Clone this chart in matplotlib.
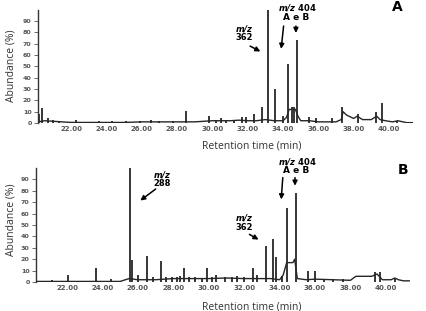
import matplotlib
matplotlib.use("Agg")
import matplotlib.pyplot as plt
import numpy as np

# ---- panel A : peak apexes (min, %) ----
peak_t_A = [20.20, 20.37, 20.7, 21.0, 21.3, 22.3, 23.6, 24.3, 25.1, 25.9, 26.5, 27.0,
            27.8, 28.5, 29.8, 30.2, 30.5, 30.8, 31.2, 31.7, 31.9, 32.35, 32.8, 33.15,
            33.55, 34.0, 34.28, 34.5, 34.62, 34.8, 35.47, 35.87, 36.8, 37.35, 38.25,
            39.27, 39.6, 40.45]
peak_h_A = [8, 13, 4, 2.5, 2, 3, 2, 1.5, 1.5, 2, 3, 2,
            2, 11, 6, 3, 4, 3, 3, 5, 5, 8, 14, 100,
            30, 6, 52, 14, 14, 73, 5, 4, 4, 14, 8,
            10, 18, 2]
# baseline of trace A
base_t_A = [20.13, 20.5, 21.0, 21.5, 22.0, 23.0, 24.0, 25.0, 26.0, 27.0, 28.0, 29.0,
            30.0, 31.0, 31.5, 32.0, 32.5, 33.0, 33.5, 34.0, 34.2, 34.35, 34.7, 34.85,
            35.0, 35.5, 36.0, 37.0, 37.3, 37.4, 37.6, 38.0, 38.2, 38.5, 39.0, 39.3,
            39.5, 39.8, 40.2, 40.5, 41.0, 41.36]
base_y_A = [1, 2, 1.5, 1, 0.5, 0.5, 0.5, 0.5, 1, 1, 1, 1,
            2, 2, 2.5, 2, 2, 3, 2, 2, 5, 12, 12, 6,
            2, 2, 1, 1, 3, 10, 7, 4, 6, 3, 3, 6,
            3, 2, 1, 2, 0.3, 0.3]

# ---- panel B ----
peak_t_B = [21.15, 22.05, 23.65, 24.5, 25.55, 25.65, 26.0, 26.5, 26.85, 27.3, 27.6,
            27.9, 28.2, 28.4, 28.6, 28.9, 29.2, 29.6, 29.9, 30.2, 30.4, 30.9, 31.3,
            31.6, 32.0, 32.5, 32.75, 33.25, 33.65, 33.8, 34.15, 34.4, 34.9, 35.6,
            36.0, 36.5, 37.0, 37.6, 39.4, 39.65, 40.5]
peak_h_B = [1.5, 6, 12, 3, 100, 19, 6, 23, 4, 18, 4,
            4, 4, 5, 12, 4, 4, 3, 12, 4, 6, 4, 4,
            5, 4, 12, 6, 32, 38, 22, 5, 65, 78, 10,
            10, 3, 3, 3, 9, 9, 3.5]
base_t_B = [20.25, 21.0, 22.0, 25.0, 25.5, 26.0, 27.0, 28.0, 29.0, 30.0, 31.0, 32.0,
            33.0, 33.5, 34.0, 34.2, 34.4, 34.75, 34.85, 35.0, 35.5, 36.0, 37.0, 38.0,
            38.3, 39.2, 39.5, 39.8, 40.3, 40.5, 40.7, 41.0, 41.36]
base_y_B = [0.5, 0.5, 0.5, 0.5, 3, 2, 2, 3, 3, 3, 3.5, 3,
            3, 3, 2, 6, 17, 17, 20, 3, 2, 2.5, 2, 1.5,
            5, 5, 7, 2, 2, 3.5, 2, 1, 1]

xticks = [22, 24, 26, 28, 30, 32, 34, 36, 38, 40]
yticks = [0, 10, 20, 30, 40, 50, 60, 70, 80, 90]

lab_font = "Open Sans"
trace_col = "#262626"

fig = plt.figure(figsize=(4.26, 3.11), dpi=100)
axA = fig.add_axes([38/426, 1-123/311, 375/426, 113.3/311])
axB = fig.add_axes([36/426, 1-282/311, 374/426, 114/311])


def draw_panel(ax, pt, ph, bt, by, xmin):
    ax.plot(bt, by, color=trace_col, lw=1.0)
    ax.vlines(pt, 0, ph, color=trace_col, lw=1.3)
    ax.set_xlim(xmin, 41.36)
    ax.set_ylim(0, 100)
    for s in ["top", "right", "bottom"]:
        ax.spines[s].set_visible(False)
    ax.spines["left"].set_color("#333333")
    ax.spines["left"].set_linewidth(1.0)
    ax.set_xticks(xticks)
    ax.set_xticklabels(["%.2f" % v for v in xticks], fontsize=5.0,
                       fontweight="bold", color="#555555")
    ax.set_yticks(yticks)
    ax.set_yticklabels([str(v) for v in yticks], fontsize=4.6,
                       fontweight="bold", color="#555555")
    ax.tick_params(axis="x", length=0, pad=2)
    ax.tick_params(axis="y", length=3, width=0.6, pad=1.5, color="#555555")


draw_panel(axA, peak_t_A, peak_h_A, base_t_A, base_y_A, 20.13)
draw_panel(axB, peak_t_B, peak_h_B, base_t_B, base_y_B, 20.25)

arr = dict(arrowstyle="-|>", color="black", lw=1.1, mutation_scale=7)

# panel A annotations
axA.text(31.79, 80, "$\\mathbfit{m/z}$\n362", fontsize=6, fontweight="bold",
         ha="center", va="center", linespacing=0.9, clip_on=False)
axA.annotate("", xy=(32.86, 62), xytext=(32.0, 69), arrowprops=arr, annotation_clip=False)
axA.text(34.79, 102, "$\\mathbfit{m/z}$ 404", fontsize=6, fontweight="bold",
         ha="center", va="center", clip_on=False)
axA.text(34.73, 93, "A e B", fontsize=6.5, fontweight="bold", ha="center",
         va="center", clip_on=False)
axA.annotate("", xy=(33.88, 63), xytext=(34.05, 88), arrowprops=arr, annotation_clip=False)
axA.annotate("", xy=(34.73, 77), xytext=(34.73, 88), arrowprops=arr, annotation_clip=False)
axA.text(40.5, 102, "A", fontsize=10, fontweight="heavy", ha="center",
         va="center", clip_on=False)

# panel B annotations
axB.text(27.36, 91, "$\\mathbfit{m/z}$\n288", fontsize=6, fontweight="bold",
         ha="center", va="center", linespacing=0.9, clip_on=False)
axB.annotate("", xy=(26.01, 70), xytext=(27.13, 83), arrowprops=arr, annotation_clip=False)
axB.text(34.98, 106, "$\\mathbfit{m/z}$ 404", fontsize=6, fontweight="bold",
         ha="center", va="center", clip_on=False)
axB.text(34.92, 98, "A e B", fontsize=6.5, fontweight="bold", ha="center",
         va="center", clip_on=False)
axB.annotate("", xy=(34.08, 70), xytext=(34.19, 94), arrowprops=arr, annotation_clip=False)
axB.annotate("", xy=(34.87, 82), xytext=(34.87, 94), arrowprops=arr, annotation_clip=False)
axB.text(31.99, 52.6, "$\\mathbfit{m/z}$\n362", fontsize=6, fontweight="bold",
         ha="center", va="center", linespacing=0.9, clip_on=False)
axB.annotate("", xy=(32.95, 36), xytext=(32.16, 43), arrowprops=arr, annotation_clip=False)
axB.text(40.96, 98, "B", fontsize=10, fontweight="heavy", ha="center",
         va="center", clip_on=False)

# axis titles
for yc in [1-66/311, 1-220/311]:
    fig.text(11/426, yc, "Abundance (%)", rotation=90, ha="center", va="center",
             fontsize=7.5, family=lab_font, color="#333333")
for yc in [1-146/311, 1-307/311]:
    fig.text(252/426, yc, "Retention time (min)", ha="center", va="center",
             fontsize=7.5, family=lab_font, color="#333333")

fig.savefig("out.png", dpi=100)
